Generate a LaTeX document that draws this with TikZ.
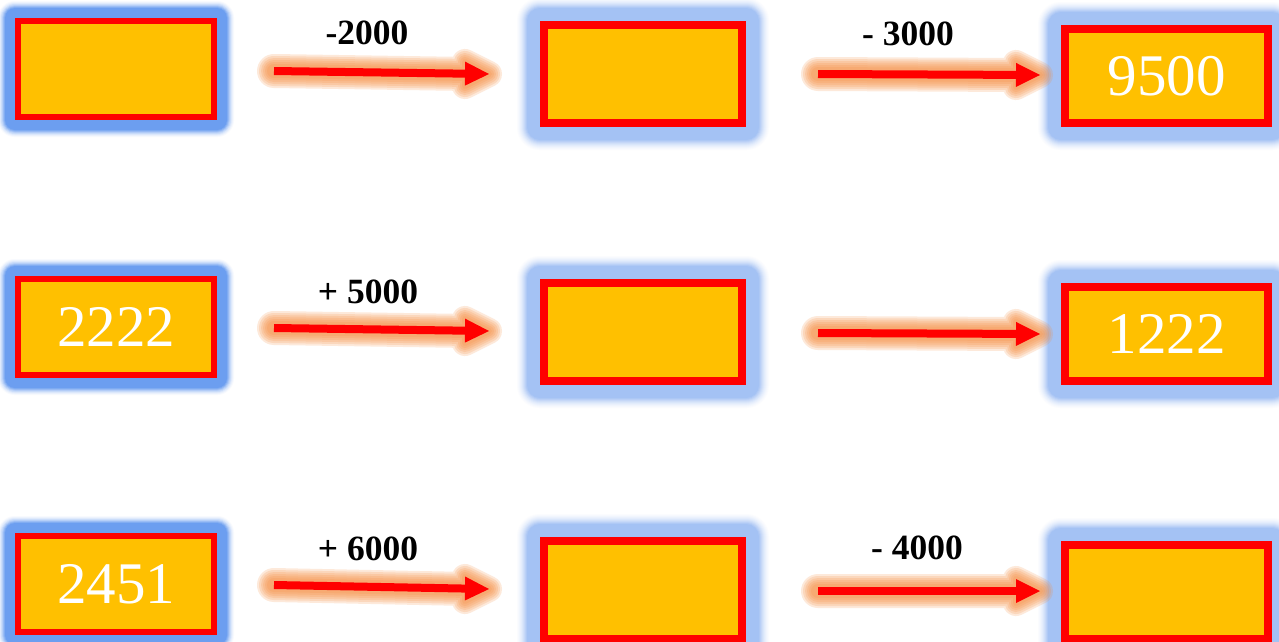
\documentclass[tikz,border=0pt]{standalone}
\usepackage{fontspec}
\setmainfont{Liberation Serif}
\usetikzlibrary{arrows.meta,calc,backgrounds}
\definecolor{boxfill}{RGB}{255,192,0}
\definecolor{boxred}{RGB}{255,0,0}
\definecolor{glowL}{RGB}{108,158,240}
\definecolor{glowR}{RGB}{164,194,244}
\definecolor{glowO}{RGB}{247,140,60}
\tikzset{
  numbox/.style={draw=boxred, fill=boxfill, inner sep=0pt, text=white,
    font=\fontsize{59}{60}\selectfont},
  leftbox/.style={numbox, line width=6pt, minimum width=196pt, minimum height=96pt},
  midbox/.style={numbox, line width=8pt, minimum width=198pt, minimum height=98pt},
  rightbox/.style={numbox, line width=8pt, minimum width=203pt, minimum height=94pt},
  oplabel/.style={inner sep=0pt, font=\fontsize{35.5}{37}\selectfont\bfseries},
  conn/.style={draw=boxred, line width=8pt, -{Triangle[length=24pt,width=24pt,line width=0pt]}},
}
\newcommand{\myboxglow}[3]{%
  \foreach \d/\p in {#3} {
    \fill[#2!\p, rounded corners=\d pt] ($(#1.north west)+(-\d,-\d)$) rectangle ($(#1.south east)+(\d,\d)$);
  }}
\newcommand{\myarrowglow}[2]{%
  \foreach \e in {13,11,9,7,5,3} {
    \begin{scope}[transparency group, opacity=0.19]
      \draw[glowO, line width={8+2*\e}, line cap=round] (#1) -- ($(#2)+(-20,0)$);
      \filldraw[glowO, line width={2*\e}, line join=round] ($(#2)+(-24,-12)$) -- (#2) -- ($(#2)+(-24,12)$) -- cycle;
    \end{scope}
  }}
\begin{document}
\begin{tikzpicture}[x=1pt, y=-1pt]
  \useasboundingbox (0,0) rectangle (1279,641);

  % boxes
  \node[leftbox]  (L1) at (116,69)    {};
  \node[midbox]   (M1) at (643,74)    {};
  \node[rightbox] (R1) at (1166.5,76) {9500};
  \node[leftbox]  (L2) at (116,327)   {2222};
  \node[midbox]   (M2) at (643,332)   {};
  \node[rightbox] (R2) at (1166.5,334) {1222};
  \node[leftbox]  (L3) at (116,584)   {2451};
  \node[midbox]   (M3) at (643,590)   {};
  \node[rightbox] (R3) at (1166.5,592) {};

  % arrow end points
  \coordinate (a1s) at (274,71);  \coordinate (a1e) at (489,74);
  \coordinate (b1s) at (818,74);  \coordinate (b1e) at (1040,75);
  \coordinate (a2s) at (274,328); \coordinate (a2e) at (489,331);
  \coordinate (b2s) at (818,333); \coordinate (b2e) at (1040,334);
  \coordinate (a3s) at (274,585); \coordinate (a3e) at (489,589);
  \coordinate (b3s) at (818,591); \coordinate (b3e) at (1040,591);

  \begin{pgfonlayer}{background}
    \fill[white] (0,0) rectangle (1279,641);
    \foreach \n in {L1,L2,L3} {\myboxglow{\n}{glowL}{17/5,16/12,15/22,14/35,13/50,12/68,11/85,10/100}}
    \foreach \n in {M1,M2,M3,R1,R2,R3} {\myboxglow{\n}{glowR}{23/4,22/9,21/15,20/22,19/30,18/40,17/50,16/62,15/75,14/88,13/100}}
    \myarrowglow{a1s}{a1e}
    \myarrowglow{b1s}{b1e}
    \myarrowglow{a2s}{a2e}
    \myarrowglow{b2s}{b2e}
    \myarrowglow{a3s}{a3e}
    \myarrowglow{b3s}{b3e}
  \end{pgfonlayer}

  % connectors
  \draw[conn] (a1s) -- (a1e);
  \draw[conn] (b1s) -- (b1e);
  \draw[conn] (a2s) -- (a2e);
  \draw[conn] (b2s) -- (b2e);
  \draw[conn] (a3s) -- (a3e);
  \draw[conn] (b3s) -- (b3e);

  % labels
  \node[oplabel] (t1) at (367,33)  {-2000};
  \node[oplabel] (t2) at (908,34)  {- 3000};
  \node[oplabel] (t3) at (368,292) {+ 5000};
  \node[oplabel] (t4) at (368,549) {+ 6000};
  \node[oplabel] (t5) at (917,548) {- 4000};
\end{tikzpicture}
\end{document}
